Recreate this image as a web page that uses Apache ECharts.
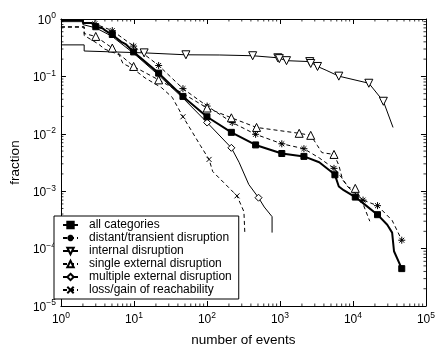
<!DOCTYPE html>
<html>
<head>
<meta charset="utf-8">
<script src="https://cdn.jsdelivr.net/npm/echarts@6/dist/echarts.min.js"></script>
<style>
  html, body { margin: 0; padding: 0; background: #fff; }
  #chart { width: 438px; height: 352px; }
</style>
</head>
<body>
<div id="chart"></div>
<script>
// CCDF of events per category (log-log)
const xTickExp = ['0', '1', '2', '3', '4', '5']
const yTickExp = ['\u22125', '\u22124', '\u22123', '\u22122', '\u22121', '0']

const allX = [1, 2, 2, 2.65, 3.0, 3.7, 4.0, 4.5, 5.05, 5.7, 6.7, 7.8, 9.9, 21.8, 46.9, 100, 216, 464, 1060, 2130, 3450, 4900, 5660, 6400, 7460, 10760, 13740, 21700, 29500, 34400, 36500, 46600]
const allY = [0.962, 0.962, 0.856, 0.856, 0.733, 0.69, 0.64, 0.58, 0.537, 0.47, 0.40, 0.36, 0.267, 0.114, 0.0448, 0.0198, 0.0106, 0.0064, 0.00454, 0.00404, 0.0032, 0.00225, 0.00193, 0.00121, 0.00104, 0.00079, 0.00062, 0.00039, 0.00026, 0.00019, 0.00009, 0.0000448]
const allMarks = [4, 8, 12, 13, 14, 15, 16, 17, 18, 19, 22, 25, 27, 31]

const distX = [1, 2, 2, 2.65, 2.91, 5.05, 9.9, 21.8, 46.9, 100.6, 222, 464, 1060, 2130, 3450, 5500, 7020, 8690, 13740, 21700, 34400, 40000, 46600]
const distY = [0.98, 0.98, 0.87, 0.87, 0.823, 0.628, 0.337, 0.155, 0.0612, 0.0304, 0.0157, 0.0098, 0.0067, 0.0055, 0.0038, 0.0025, 0.00171, 0.00116, 0.0007, 0.00056, 0.00031, 0.00021, 0.00014]
const distMarks = [4, 5, 6, 7, 8, 9, 10, 11, 12, 13, 15, 18, 19, 22]

const intX = [1, 2.08, 2.08, 13.8, 51.5, 150, 423, 935, 980, 1230, 2560, 2640, 3270, 4290, 6400, 16500, 26100, 35400]
const intY = [0.354, 0.354, 0.277, 0.257, 0.238, 0.236, 0.229, 0.211, 0.204, 0.188, 0.181, 0.168, 0.149, 0.128, 0.101, 0.076, 0.0369, 0.0129]
const intMarks = [3, 4, 6, 7, 8, 9, 10, 11, 12, 14, 15, 16]

const singleX = [1, 2.08, 2.08, 3.0, 5.05, 9.9, 21.8, 46.9, 100.6, 216, 478, 1835, 2640, 3270, 3750, 5500, 6400, 7200, 8690, 10760, 12920, 17000]
const singleY = [0.733, 0.733, 0.558, 0.497, 0.312, 0.149, 0.087, 0.0503, 0.0281, 0.019, 0.0129, 0.0102, 0.0094, 0.0062, 0.0047, 0.00437, 0.00284, 0.00159, 0.00116, 0.00112, 0.00073, 0.0003]
const singleMarks = [3, 4, 5, 6, 8, 9, 10, 11, 12, 15, 19]

const multiX = [1, 2, 2, 3, 5, 10, 21.8, 46.9, 100.6, 216, 275, 374, 509, 610, 780, 780]
const multiY = [0.9, 0.9, 0.8, 0.7, 0.5, 0.25, 0.105, 0.042, 0.0157, 0.0057, 0.0032, 0.00131, 0.00077, 0.00053, 0.00036, 0.00019]
const multiMarks = [8, 9, 12]

const lossX = [1, 2.08, 2.08, 3.29, 3.95, 6.25, 7.06, 9.6, 14.2, 23.9, 33.5, 46.9, 59.7, 81, 106.9, 120, 258, 321, 330]
const lossY = [0.72, 0.72, 0.517, 0.364, 0.3, 0.238, 0.168, 0.138, 0.094, 0.0636, 0.0431, 0.0198, 0.012, 0.0063, 0.00358, 0.0022, 0.00083, 0.00044, 0.00019]
const lossMarks = [11, 14, 16]

const names = ['all categories', 'distant/transient disruption', 'internal disruption',
  'single external disruption', 'multiple external disruption', 'loss/gain of reachability']

const FONT = '"Liberation Sans", Arial, Helvetica, sans-serif'
const asterisk = 'path://M5,0L5,10M0,5L10,5M1.5,1.5L8.5,8.5M8.5,1.5L1.5,8.5'
const cross = 'path://M0,0L10,10M10,0L0,10'

function pts(xs, ys, marks) {
  return xs.map((x, i) => marks.includes(i) ? [x, ys[i]] : { value: [x, ys[i]], symbol: 'none' })
}

function lineSeries(name, xs, ys, marks, symbol, size, opts) {
  return {
    name,
    type: 'line',
    data: pts(xs, ys, marks),
    symbol,
    symbolSize: size,
    symbolRotate: opts.rotate || 0,
    showSymbol: true,
    showAllSymbol: true,
    animation: false,
    lineStyle: { color: '#000', width: opts.width || 1, type: opts.dash ? [4, 3] : 'solid' },
    itemStyle: { color: opts.fill || '#fff', borderColor: '#000', borderWidth: 1 },
    z: opts.z || 2,
  }
}

const minorX = []
for (let e = 0; e < 5; e++) for (let m = 2; m < 10; m++) minorX.push(m * Math.pow(10, e))
const minorY = []
for (let e = -5; e < 0; e++) for (let m = 2; m < 10; m++) minorY.push(m * Math.pow(10, e))

const chart = echarts.init(document.getElementById('chart'), null, { renderer: 'canvas' })

const axisCommon = {
  type: 'log',
  logBase: 10,
  axisLine: { show: true, lineStyle: { color: '#000', width: 1 } },
  axisTick: { show: true, inside: true, length: 5, lineStyle: { color: '#000', width: 1 } },
  splitLine: { show: false },
  minorTick: { show: false },
}
const richLabel = {
  b: { fontSize: 12, fontFamily: FONT, color: '#000', lineHeight: 15, verticalAlign: 'bottom' },
  s: { fontSize: 8.5, fontFamily: FONT, color: '#000', lineHeight: 15, verticalAlign: 'top' },
}

chart.setOption({
  backgroundColor: '#fff',
  animation: false,
  grid: { left: 53, right: 8, top: 19, bottom: 37, show: false },
  xAxis: [
    Object.assign({}, axisCommon, {
      position: 'bottom', min: 1, max: 100000,
      name: 'number of events', nameLocation: 'middle', nameGap: 27,
      nameTextStyle: { fontSize: 13.5, fontFamily: FONT, color: '#000' },
      axisLabel: {
        margin: 5,
        formatter: (v, i) => '{b|10}{s|' + xTickExp[i] + '}',
        rich: richLabel,
      },
    }),
    Object.assign({}, axisCommon, { position: 'top', min: 1, max: 100000, axisLabel: { show: false } }),
  ],
  yAxis: [
    Object.assign({}, axisCommon, {
      position: 'left', min: 0.00001, max: 1,
      name: 'fraction', nameLocation: 'middle', nameGap: 36,
      nameTextStyle: { fontSize: 13.5, fontFamily: FONT, color: '#000' },
      axisLabel: {
        margin: 5,
        formatter: (v, i) => '{b|10}{s|' + yTickExp[i] + '}',
        rich: richLabel,
      },
    }),
    Object.assign({}, axisCommon, { position: 'right', min: 0.00001, max: 1, axisLabel: { show: false } }),
  ],
  legend: {
    orient: 'vertical',
    left: 54,
    top: 216,
    data: names,
    backgroundColor: '#fff',
    borderColor: '#000',
    borderWidth: 1,
    borderRadius: 0,
    padding: [3, 7, 3, 8],
    itemGap: 1,
    itemWidth: 15,
    itemHeight: 8,
    textStyle: { fontSize: 12, fontFamily: FONT, color: '#000', lineHeight: 12, padding: [0, 0, 0, 6] },
  },
  series: [
    lineSeries(names[0], allX, allY, allMarks, 'rect', 6, { width: 2, fill: '#000', z: 5 }),
    lineSeries(names[1], distX, distY, distMarks, asterisk, 7, { dash: true }),
    lineSeries(names[2], intX, intY, intMarks, 'triangle', 8, { rotate: 180 }),
    lineSeries(names[3], singleX, singleY, singleMarks, 'triangle', 8, { dash: true }),
    lineSeries(names[4], multiX, multiY, multiMarks, 'diamond', 7, {}),
    lineSeries(names[5], lossX, lossY, lossMarks, cross, 5, { dash: true }),
    {
      type: 'custom',
      silent: true,
      animation: false,
      data: [[1, 1]],
      renderItem: (params, api) => {
        const children = []
        const lw = { stroke: '#000', lineWidth: 0.8 }
        const b = api.coord([1, 0.00001]), t = api.coord([100000, 1])
        minorX.forEach(v => {
          const p = api.coord([v, 1])
          children.push({ type: 'line', shape: { x1: p[0], y1: b[1], x2: p[0], y2: b[1] - 2.5 }, style: lw })
          children.push({ type: 'line', shape: { x1: p[0], y1: t[1], x2: p[0], y2: t[1] + 2.5 }, style: lw })
        })
        minorY.forEach(v => {
          const p = api.coord([1, v])
          children.push({ type: 'line', shape: { x1: b[0], y1: p[1], x2: b[0] + 2.5, y2: p[1] }, style: lw })
          children.push({ type: 'line', shape: { x1: t[0], y1: p[1], x2: t[0] - 2.5, y2: p[1] }, style: lw })
        })
        return { type: 'group', children }
      },
    },
  ],
})
</script>
</body>
</html>
